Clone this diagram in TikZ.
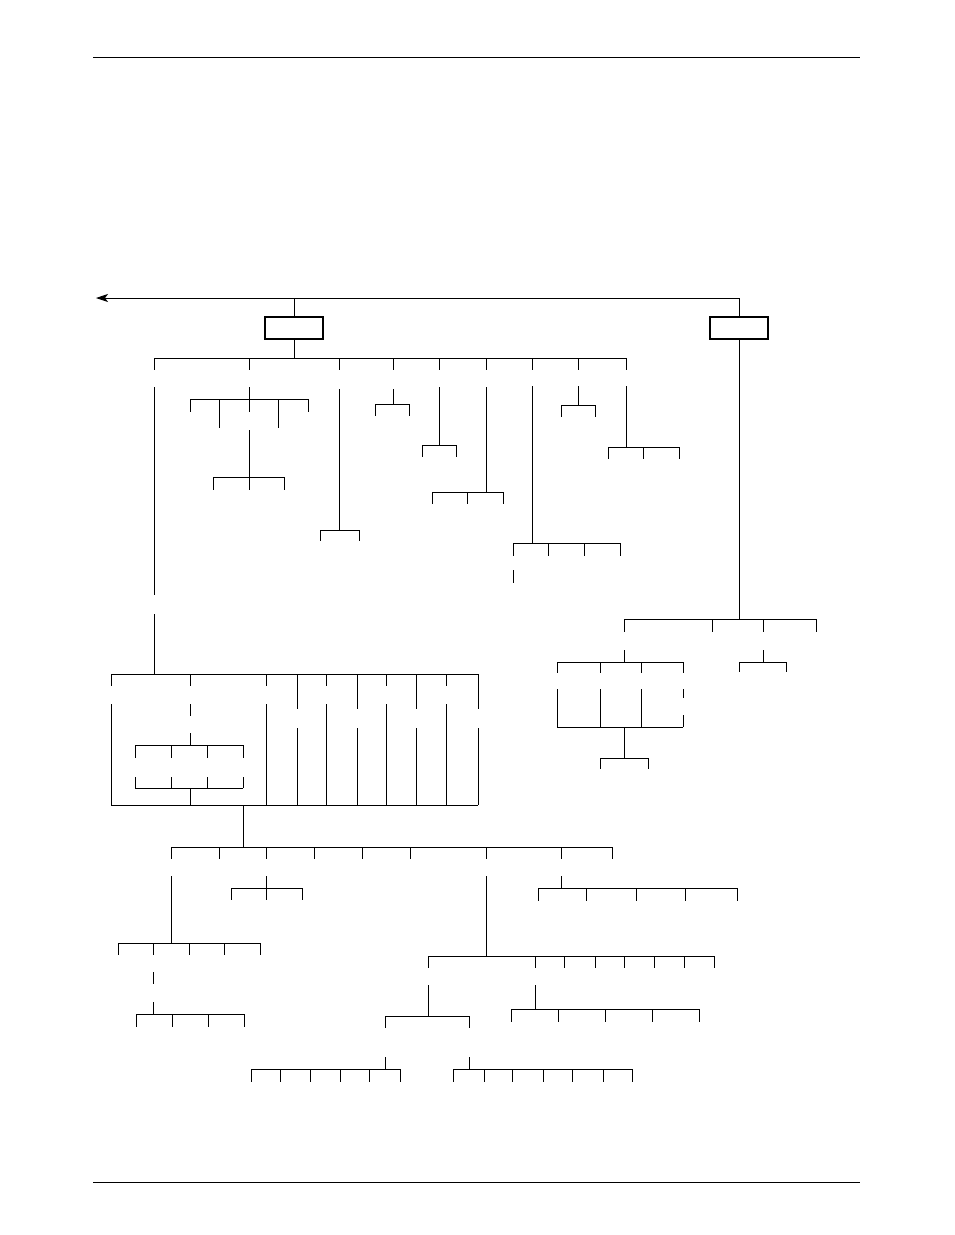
\documentclass[tikz,border=0pt]{standalone}
\usetikzlibrary{arrows.meta}
% horizontal bus with ticks hanging down: #1 y, #2 left x, #3 right x, #4 list x/length
\newcommand{\busline}[4]{%
  \draw (#2,#1) -- (#3,#1);
  \foreach \tx/\tl in {#4} \draw (\tx,#1) -- ++(0,\tl);}
\begin{document}
\begin{tikzpicture}[x=1pt,y=-1pt,line width=0.9pt]
      \tikzset{unit/.style={draw, line width=1.8pt, minimum width=58pt, minimum height=22pt, inner sep=0pt}}
      \useasboundingbox (0,0) rectangle (954,1235);
%% Page rules
      \draw (93,57) -- (860,57);
      \draw (93,1182) -- (860,1182);
%% Boxes
      \node[unit] (unitA) at (294,328) {};
      \node[unit] (unitB) at (739,328) {};
      \coordinate (topA) at (294,298);
      \coordinate (topB) at (739,298);
      \coordinate (arrowEnd) at (96,298);
%Top connection
      \draw (unitA.north) -- (topA);
      \draw[-{Stealth[length=12pt,width=8pt,inset=3pt]}] (unitB.north) -- (topB) -- (arrowEnd);
      \coordinate (busA) at (294,358);
      \coordinate (busB) at (739,619);
      \draw (unitA.south) -- (busA);
      \draw (unitB.south) -- (busB);
%Left unit, first level
      \busline{358}{154}{626}{154/12,249/12,339/12,393/12,439/12,486/12,532/12,578/12,626/12}
      \draw (154,387) -- (154,595);
      \draw (154,614) -- (154,674);
      \draw (249,387) -- (249,399);
      \busline{399}{190}{308}{190/13,219/29,249/13,278/29,308/13}
      \draw (249,430) -- (249,477);
      \busline{477}{213}{284}{213/13,249/13,284/13}
      \draw (339,389) -- (339,530);
      \busline{530}{320}{359}{320/11,359/11}
      \draw (393,389) -- (393,404);
      \busline{404}{375}{409}{375/12,409/12}
      \draw (439,387) -- (439,445);
      \busline{445}{422}{456}{422/12,456/12}
      \draw (486,387) -- (486,492);
      \busline{492}{432}{503}{432/12,467/12,503/12}
      \draw (532,386) -- (532,543);
      \busline{543}{513}{620}{513/13,548/13,584/13,620/13}
      \draw (513,570) -- (513,583);
      \draw (578,386) -- (578,405);
      \busline{405}{561}{595}{561/12,595/12}
      \draw (626,386) -- (626,447);
      \busline{447}{608}{679}{608/12,643/12,679/12}
%Right unit
      \busline{619}{624}{816}{624/13,712/13,763/13,816/13}
      \draw (624,650) -- (624,662);
      \busline{662}{557}{683}{557/11,600/11,641/11,683/11}
      \foreach \cx in {557,600,641} \draw (\cx,689) -- (\cx,727);
      \draw (683,689) -- (683,698);
      \draw (683,715) -- (683,727);
      \draw (557,727) -- (683,727);
      \draw (624,727) -- (624,758);
      \busline{758}{600}{648}{600/11,648/11}
      \draw (763,650) -- (763,662);
      \busline{662}{739}{786}{739/10,786/10}
%Left frame
      \busline{674}{111}{478}{111/12,190/12,266/12,297/35,326/12,357/35,386/12,416/35,446/12,478/35}
      \foreach \cx in {111,266,326,386,446} \draw (\cx,704) -- (\cx,805);
      \foreach \cx in {297,357,416,478} \draw (\cx,728) -- (\cx,805);
      \draw (190,704) -- (190,716);
      \draw (190,733) -- (190,745);
      \busline{745}{135}{243}{135/13,171/13,207/13,243/13}
      \foreach \cx in {135,171,207,243} \draw (\cx,777) -- (\cx,788);
      \draw (135,788) -- (243,788);
      \draw (190,788) -- (190,805);
      \draw (111,805) -- (478,805);
      \draw (243,805) -- (243,847);
%Lower tree
      \busline{847}{171}{612}{171/12,219/12,266/12,314/12,362/12,410/12,486/12,561/12,612/12}
      \draw (171,876) -- (171,943);
      \busline{943}{118}{260}{118/12,153/12,189/12,224/12,260/12}
      \draw (153,972) -- (153,984);
      \draw (153,1002) -- (153,1014);
      \busline{1014}{136}{244}{136/13,172/13,208/13,244/13}
      \draw (266,876) -- (266,888);
      \busline{888}{231}{302}{231/12,266/12,302/12}
      \draw (486,876) -- (486,956);
      \busline{956}{428}{714}{428/12,535/12,564/12,595/12,624/12,654/12,684/12,714/12}
      \draw (561,876) -- (561,888);
      \busline{888}{538}{737}{538/13,586/13,636/13,685/13,737/13}
      \draw (428,985) -- (428,1016);
      \busline{1016}{385}{469}{385/12,469/12}
      \draw (535,985) -- (535,1009);
      \busline{1009}{511}{699}{511/13,558/13,605/13,652/13,699/13}
      \draw (385,1057) -- (385,1069);
      \busline{1069}{251}{400}{251/13,280/13,310/13,340/13,369/13,400/13}
      \draw (469,1057) -- (469,1069);
      \busline{1069}{453}{632}{453/13,484/13,512/13,543/13,572/13,603/13,632/13}
\end{tikzpicture}
\end{document}
